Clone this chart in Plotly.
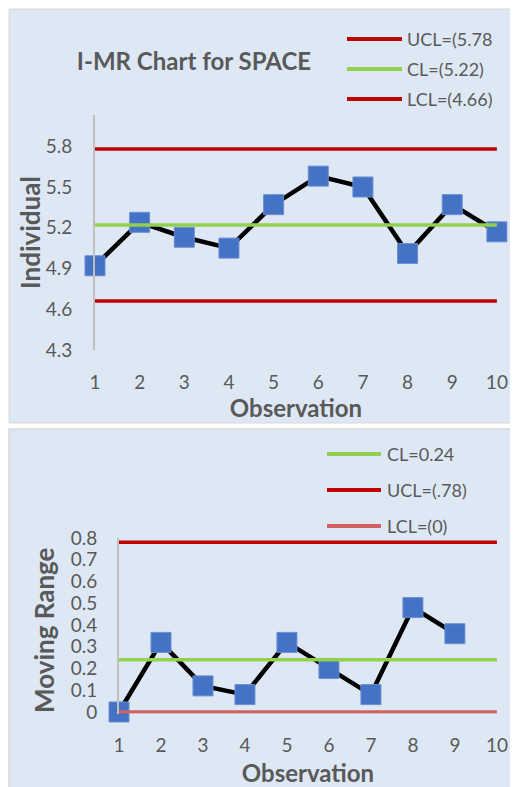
import plotly.graph_objects as go

# the page body adds an 8px margin, so the figure sits at (8, 8)
OX, OY = 8, 8
W, H = 518 - OX, 787 - OY

# ---- data ----
observations = [1, 2, 3, 4, 5, 6, 7, 8, 9, 10]
individual = [4.92, 5.24, 5.13, 5.05, 5.37, 5.58, 5.50, 5.01, 5.37, 5.17]
mr_obs = [1, 2, 3, 4, 5, 6, 7, 8, 9]
moving_range = [0, 0.32, 0.12, 0.08, 0.32, 0.20, 0.08, 0.48, 0.36]

i_ucl, i_cl, i_lcl = 5.78, 5.22, 4.66
mr_cl, mr_ucl, mr_lcl = 0.24, 0.78, 0.0

i_ticks = [4.3, 4.6, 4.9, 5.2, 5.5, 5.8]
mr_ticks = [0, 0.1, 0.2, 0.3, 0.4, 0.5, 0.6, 0.7, 0.8]
mr_tick_text = ["0", "0.1", "0.2", "0.3", "0.4", "0.5", "0.6", "0.7", "0.8"]

title_text = "I-MR Chart for SPACE"
i_legend = ["UCL=(5.78", "CL=(5.22)", "LCL=(4.66)"]
mr_legend = ["CL=0.24", "UCL=(.78)", "LCL=(0)"]

# ---- styles ----
FONT = "Lato"
TXT = "#595959"
RED = "#C00000"
GREEN = "#92D050"
LRED = "#D06262"
BLUE = "#4472C4"
PANEL = "#DEE8F4"
PLOTBG = "#EBEBEB"

def px(x):
    return (x - OX) / W

def py(y):
    return 1 - (y - OY) / H

fig = go.Figure()

# data traces
fig.add_trace(go.Scatter(x=observations, y=individual, mode="lines+markers",
                         line=dict(color="black", width=4.5),
                         marker=dict(symbol="square", size=20, color=BLUE,
                                     line=dict(color="#6A8FD3", width=1)),
                         cliponaxis=False, showlegend=False, xaxis="x", yaxis="y"))
for val, col in [(i_ucl, RED), (i_cl, GREEN), (i_lcl, RED)]:
    fig.add_trace(go.Scatter(x=[observations[0], observations[-1]], y=[val, val], mode="lines",
                             line=dict(color=col, width=3.5), cliponaxis=False,
                             showlegend=False, xaxis="x", yaxis="y"))

fig.add_trace(go.Scatter(x=mr_obs, y=moving_range, mode="lines+markers",
                         line=dict(color="black", width=4.5),
                         marker=dict(symbol="square", size=20, color=BLUE,
                                     line=dict(color="#6A8FD3", width=1)),
                         cliponaxis=False, showlegend=False, xaxis="x2", yaxis="y2"))
for val, col in [(mr_ucl, RED), (mr_cl, GREEN), (mr_lcl, LRED)]:
    fig.add_trace(go.Scatter(x=[observations[0], observations[-1]], y=[val, val], mode="lines",
                             line=dict(color=col, width=3.5), cliponaxis=False,
                             showlegend=False, xaxis="x2", yaxis="y2"))

shapes = [
    dict(type="rect", xref="paper", yref="paper", x0=px(9), x1=1.0, y0=py(423), y1=py(9),
         fillcolor=PANEL, line=dict(color="#D9D9D9", width=1), layer="below"),
    dict(type="rect", xref="paper", yref="paper", x0=px(9), x1=1.0, y0=py(790), y1=py(429),
         fillcolor=PANEL, line=dict(color="#D9D9D9", width=1.5), layer="below"),
]
annotations = []

# legend samples (top)
for label, col, yy in zip(i_legend, [RED, GREEN, RED], [39, 69, 99]):
    shapes.append(dict(type="line", xref="paper", yref="paper", x0=px(347), x1=px(402),
                       y0=py(yy), y1=py(yy), line=dict(color=col, width=4)))
    annotations.append(dict(text=label, xref="paper", yref="paper", x=px(405), y=py(yy),
                            xanchor="left", yanchor="middle", showarrow=False,
                            font=dict(family=FONT, size=18, color=TXT)))
# legend samples (bottom)
for label, col, yy in zip(mr_legend, [GREEN, RED, LRED], [454, 490, 526]):
    shapes.append(dict(type="line", xref="paper", yref="paper", x0=px(327), x1=px(381),
                       y0=py(yy), y1=py(yy), line=dict(color=col, width=4)))
    annotations.append(dict(text=label, xref="paper", yref="paper", x=px(385), y=py(yy),
                            xanchor="left", yanchor="middle", showarrow=False,
                            font=dict(family=FONT, size=18, color=TXT)))

tickfont = dict(family=FONT, size=19, color=TXT)
titlefont = dict(family=FONT, size=24, color=TXT, weight="bold")
ytitlefont = dict(family=FONT, size=26, color=TXT, weight="bold")

# y-axis titles (rotated)
annotations.append(dict(text="Individual", xref="paper", yref="paper", x=px(30), y=py(233),
                        xanchor="center", yanchor="middle", textangle=-90, showarrow=False,
                        font=ytitlefont))
annotations.append(dict(text="Moving Range", xref="paper", yref="paper", x=px(44), y=py(630),
                        xanchor="center", yanchor="middle", textangle=-90, showarrow=False,
                        font=ytitlefont))

common = dict(showgrid=False, zeroline=False, ticks="", automargin=False)

fig.update_layout(
    template="none",
    width=W, height=H,
    margin=dict(l=0, r=0, t=0, b=0, pad=0),
    paper_bgcolor="white",
    plot_bgcolor=PLOTBG,
    font=dict(family=FONT, color=TXT),
    title=dict(text=title_text, x=px(194), y=py(62), xanchor="center", yanchor="middle",
               xref="paper", yref="paper", automargin=False,
               font=dict(family=FONT, size=24, color=TXT, weight="bold")),
    shapes=shapes,
    annotations=annotations,
    xaxis=dict(domain=[px(95), px(497)], range=[1, 10.0025], tickvals=observations,
               showline=False, ticklabelstandoff=19, tickfont=tickfont, anchor="y",
               title=dict(text="Observation", font=titlefont, standoff=0), **common),
    yaxis=dict(domain=[py(350), py(115)], range=[4.3, 6.03], tickvals=i_ticks,
               ticktext=[f"{v:.1f}" for v in i_ticks],
               showline=True, linecolor="#BFBFBF", linewidth=2,
               ticklabelstandoff=17, tickfont=tickfont, anchor="x", **common),
    xaxis2=dict(domain=[px(119), px(497)], range=[1, 10.0025], tickvals=observations,
                showline=False, ticklabelstandoff=18, tickfont=tickfont, anchor="y2",
                title=dict(text="Observation", font=titlefont, standoff=12), **common),
    yaxis2=dict(domain=[py(713.5), py(538)], range=[-0.007, 0.8], tickvals=mr_ticks,
                ticktext=mr_tick_text,
                showline=True, linecolor="#BFBFBF", linewidth=2,
                ticklabelstandoff=16, tickfont=tickfont, anchor="x2", **common),
)

fig.write_html("out.html")
